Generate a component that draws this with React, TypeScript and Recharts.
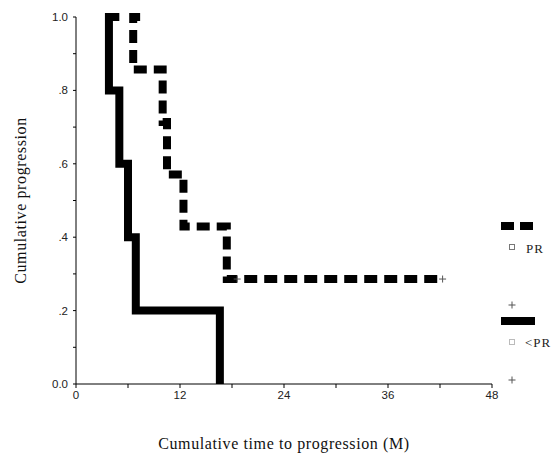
import { ComposedChart, Line, XAxis, YAxis } from "recharts";

// time (months) / cumulative progression, drawn in step order
const prTime = [7.4, 6.6, 6.6, 10.0, 10.0, 10.5, 10.5, 12.4, 12.4, 17.4, 17.4, 41.8];
const prValue = [1.0, 1.0, 0.857, 0.857, 0.714, 0.714, 0.571, 0.571, 0.429, 0.429, 0.286, 0.286];

const lessTime = [5.0, 3.8, 3.8, 5.0, 5.0, 6.0, 6.0, 6.9, 6.9, 16.6, 16.6];
const lessValue = [1.0, 1.0, 0.8, 0.8, 0.6, 0.6, 0.4, 0.4, 0.2, 0.2, 0.0];

// censored observations (+)
const censorTime = [18.6, 42.3];
const censorValue = [0.286, 0.286];

const xTicks = [0, 6, 12, 18, 24, 30, 36, 42, 48];
const yTicks = [0, 0.1, 0.2, 0.3, 0.4, 0.5, 0.6, 0.7, 0.8, 0.9, 1.0];
const yLabels: Record<string, string> = { "0": "0.0", "0.2": ".2", "0.4": ".4", "0.6": ".6", "0.8": ".8", "1": "1.0" };

const legendNames = ["PR", "<PR"];

const prData = prTime.map((t, i) => ({ t, p: prValue[i] }));
const lessData = lessTime.map((t, i) => ({ t, p: lessValue[i] }));
const censorData = censorTime.map((t, i) => ({ t, p: censorValue[i] }));

const tickFont = { fontFamily: "Liberation Sans, Arial, sans-serif", fontSize: 11.5, fill: "#222" };
const titleFont = { fontFamily: "Liberation Serif, Times New Roman, serif", fontSize: 16, letterSpacing: 0.6, fill: "#111" };
const legendFont = { fontFamily: "Liberation Serif, serif", fontSize: 13, letterSpacing: 1, fill: "#222" };

const Plus = (props: any) => {
  const { cx, cy } = props;
  if (cx == null || cy == null) return null;
  return (
    <path d={`M${cx - 3.5},${cy}H${cx + 3.5}M${cx},${cy - 3.5}V${cy + 3.5}`} stroke="#555" strokeWidth={1} fill="none" />
  );
};

export default function App() {
  return (
    <div style={{ position: "absolute", left: 0, top: 0, width: 555, height: 456, background: "#fff" }}>
      <ComposedChart width={555} height={456} margin={{ top: 17, right: 63, bottom: 42, left: 16 }}>
        <XAxis
          type="number"
          dataKey="t"
          domain={[0, 48]}
          ticks={xTicks}
          tickFormatter={(v) => (v % 12 === 0 ? String(v) : "")}
          stroke="#000"
          tick={tickFont}
          tickSize={4}
          tickMargin={3}
          height={30}
          label={{ value: "Cumulative time to progression (M)", position: "bottom", offset: 24, style: titleFont }}
        />
        <YAxis
          type="number"
          dataKey="p"
          domain={[0, 1]}
          ticks={yTicks}
          tickFormatter={(v) => yLabels[String(Math.round(v * 10) / 10)] ?? ""}
          stroke="#000"
          tick={tickFont}
          tickSize={3}
          tickMargin={5}
          width={60}
          label={{
            value: "Cumulative progression",
            angle: -90,
            position: "insideLeft",
            offset: 4,
            style: { ...titleFont, textAnchor: "middle" },
          }}
        />
        <Line
          data={lessData}
          dataKey="p"
          type="linear"
          stroke="#000"
          strokeWidth={8}
          strokeLinejoin="miter"
          dot={false}
          isAnimationActive={false}
        />
        <Line
          data={prData}
          dataKey="p"
          type="linear"
          stroke="#000"
          strokeWidth={8}
          strokeDasharray="13 7"
          strokeLinejoin="miter"
          dot={false}
          isAnimationActive={false}
        />
        <Line
          data={censorData}
          dataKey="p"
          stroke="none"
          dot={<Plus />}
          isAnimationActive={false}
        />
      </ComposedChart>
      <svg width={555} height={456} style={{ position: "absolute", left: 0, top: 0, pointerEvents: "none" }}>
        <line x1={501} x2={535} y1={226} y2={226} stroke="#000" strokeWidth={8} strokeDasharray="13 6" />
        <rect x={509.5} y={244.5} width={5} height={5} stroke="#777" fill="none" />
        <text x={526} y={253} style={legendFont}>{legendNames[0]}</text>
        <Plus cx={512} cy={305} />
        <line x1={501} x2={535} y1={321} y2={321} stroke="#000" strokeWidth={8} />
        <rect x={509.5} y={339.5} width={5} height={5} stroke="#bbb" fill="none" />
        <text x={525} y={347} style={legendFont}>{legendNames[1]}</text>
        <Plus cx={512} cy={380} />
      </svg>
    </div>
  );
}
